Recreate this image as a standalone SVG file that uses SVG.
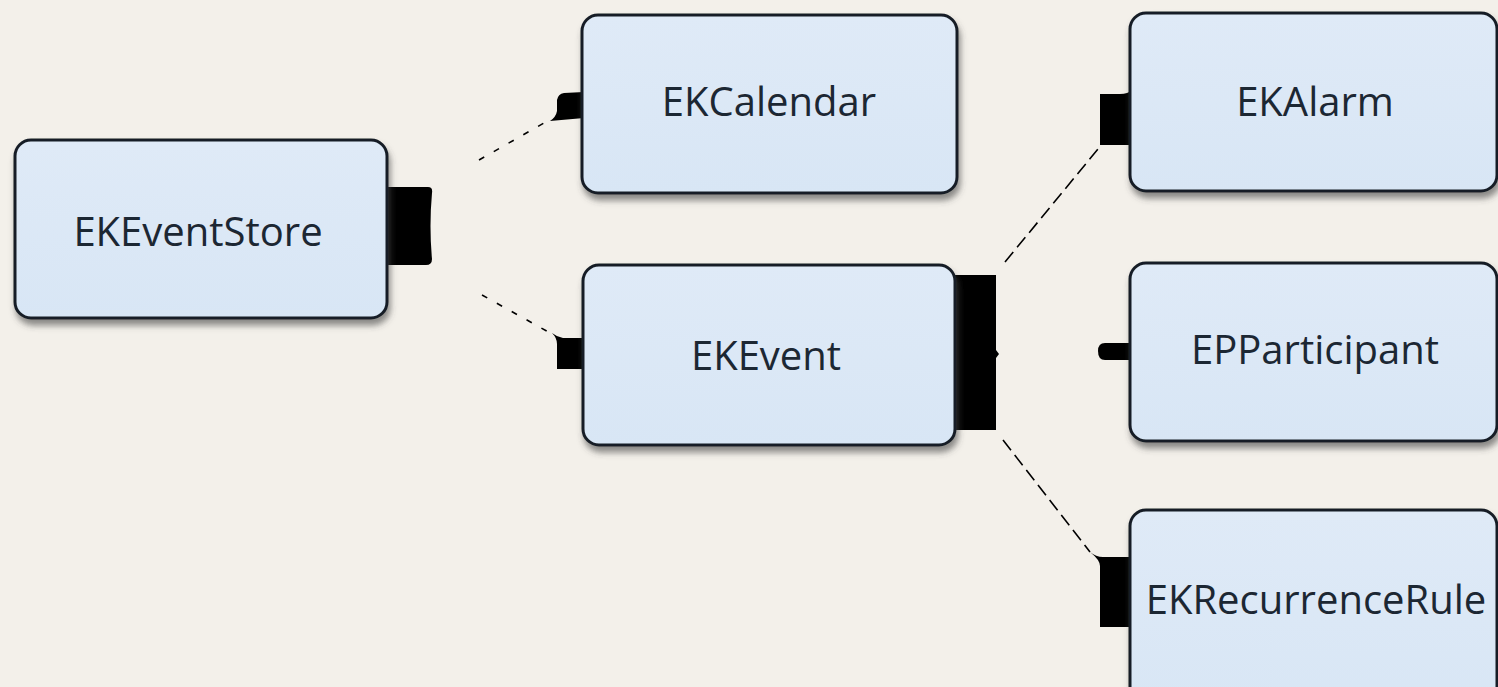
<svg xmlns="http://www.w3.org/2000/svg" width="1498" height="687" viewBox="0 0 1498 687">
  <defs>
    <filter id="shadow" x="-10%" y="-10%" width="125%" height="135%">
      <feDropShadow dx="2" dy="6" stdDeviation="3" flood-color="#444" flood-opacity="0.6"/>
    </filter>
    <linearGradient id="boxFill" x1="0" y1="0" x2="0" y2="1">
      <stop offset="0" stop-color="#dfeaf7"/>
      <stop offset="1" stop-color="#d8e6f5"/>
    </linearGradient>
  </defs>
  <style>
    .box { fill: url(#boxFill); stroke: #171f27; stroke-width: 3; filter: url(#shadow); }
    .tab { fill: #000; }
    .label { font-family: "Open Sans", "Noto Sans", "Liberation Sans", sans-serif; font-size: 40px; fill: #1c2733; text-anchor: middle; }
    .link { fill: none; stroke: #000; stroke-width: 1.6; }
    .short { stroke-dasharray: 6 11; }
    .long { stroke-dasharray: 13 6; }
  </style>

  <rect width="1498" height="687" fill="#f3f0ea"/>

  <!-- dashed relationships -->
  <g id="connectors">
    <path class="link short" d="M479,160 L551,119"/>
    <path class="link short" d="M482,295 L552,334"/>
    <path class="link long" d="M1005,262 L1098,149"/>
    <path class="link long" d="M1003,440 L1090,552"/>
  </g>

  <g id="EKEventStore">
    <path class="tab" d="M386,187 L428,187 Q433,187 432,193 Q429,226 432,259 Q432,265 426,265 L386,265 Z"/>
    <rect class="box" x="15" y="140" width="372" height="178" rx="16"/>
    <text class="label" x="198" y="246">EKEventStore</text>
  </g>

  <g id="EKCalendar">
    <path class="tab" d="M584,92 L564,93 Q558,94 557,100 L557,111 Q556,117 550,121 L584,118 Z"/>
    <rect class="box" x="582" y="15" width="375" height="178" rx="16"/>
    <text class="label" x="769" y="116">EKCalendar</text>
  </g>

  <g id="EKEvent">
    <path class="tab" d="M585,338 L563,338 Q557,337 552,333 Q557,338 557,344 L557,369 L585,369 Z"/>
    <path class="tab" d="M953,275 L996,275 L996,350 L999,354 L996,358 L996,430 L953,430 Z"/>
    <rect class="box" x="583" y="265" width="372" height="180" rx="16"/>
    <text class="label" x="766" y="370">EKEvent</text>
  </g>

  <g id="EKAlarm">
    <path class="tab" d="M1132,90 Q1128,94 1120,94 L1100,94 L1100,145 L1132,145 Z"/>
    <rect class="box" x="1130" y="13" width="367" height="178" rx="16"/>
    <text class="label" x="1315" y="116">EKAlarm</text>
  </g>

  <g id="EPParticipant">
    <path class="tab" d="M1132,343 L1105,343 Q1098,343 1098,351 Q1098,360 1105,360 L1132,360 Z"/>
    <rect class="box" x="1130" y="263" width="367" height="178" rx="16"/>
    <text class="label" x="1315" y="364">EPParticipant</text>
  </g>

  <g id="EKRecurrenceRule">
    <path class="tab" d="M1132,557 L1103,557 Q1096,557 1090,552 Q1100,560 1100,566 L1100,627 L1132,627 Z"/>
    <rect class="box" x="1130" y="510" width="367" height="200" rx="16"/>
    <text class="label" x="1316" y="614">EKRecurrenceRule</text>
  </g>
</svg>
